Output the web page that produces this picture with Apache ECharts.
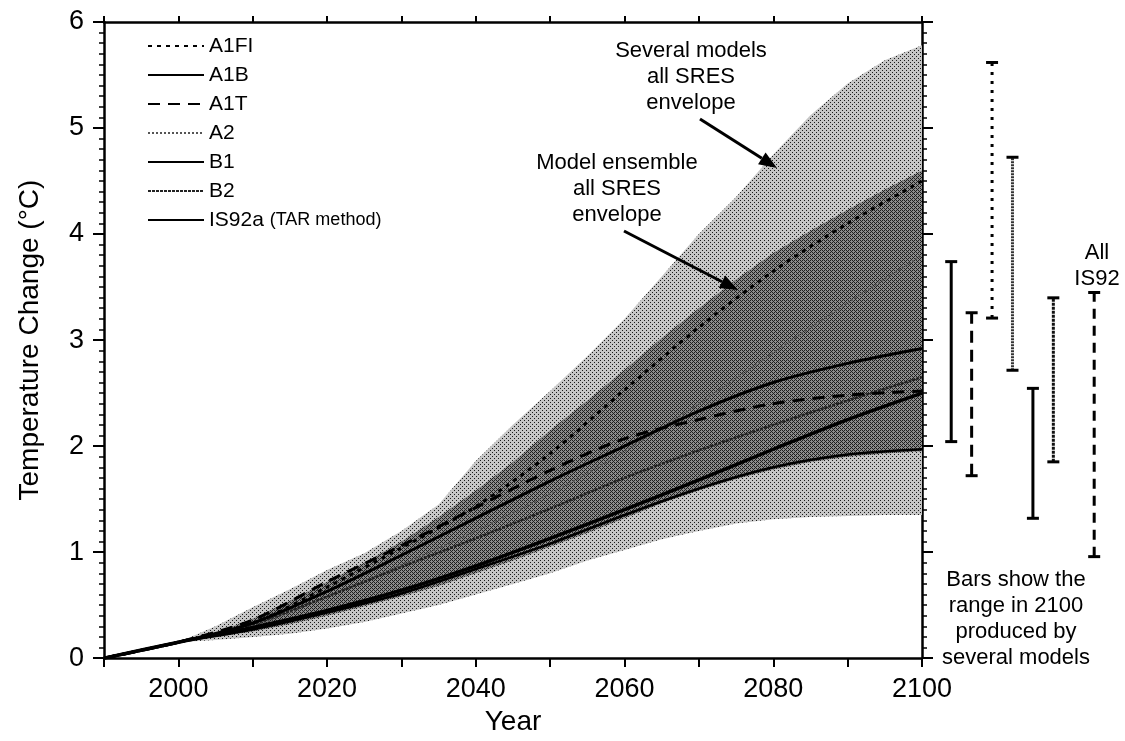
<!DOCTYPE html>
<html><head><meta charset="utf-8">
<script src="https://cdn.jsdelivr.net/npm/echarts@6/dist/echarts.min.js"></script>
<style>html,body{margin:0;padding:0;background:#fff}#c{width:1125px;height:741px}</style>
</head><body><div id="c"></div>
<script>
// ---- data ----
const years = [1990,2000,2010,2020,2030,2040,2050,2060,2070,2080,2090,2100];
const A1FI  = [0,0.15,0.33,0.67,1.04,1.43,1.93,2.53,3.12,3.65,4.10,4.50];
const A1B   = [0,0.15,0.33,0.63,0.97,1.32,1.67,2.00,2.33,2.60,2.78,2.92];
const A1T   = [0,0.15,0.36,0.72,1.06,1.42,1.77,2.07,2.25,2.40,2.48,2.52];
const A2    = [0,0.15,0.30,0.58,0.88,1.20,1.55,1.95,2.40,2.88,3.35,3.80];
const B1    = [0,0.15,0.27,0.43,0.61,0.84,1.08,1.35,1.60,1.80,1.92,1.97];
const B2    = [0,0.15,0.32,0.58,0.86,1.13,1.41,1.70,1.96,2.20,2.43,2.65];
const IS92a = [0,0.15,0.29,0.45,0.64,0.87,1.13,1.40,1.68,1.97,2.25,2.50];

const envYears = [1990,2000,2005,2010,2015,2020,2025,2030,2035,2040,2045,2050,2055,2060,2065,2070,2075,2080,2085,2090,2095,2100];
const outerHi = [0,0.15,0.30,0.48,0.65,0.83,0.99,1.20,1.45,1.86,2.20,2.52,2.85,3.20,3.60,4.00,4.35,4.75,5.12,5.42,5.64,5.78];
const outerLo = [0,0.15,0.17,0.20,0.23,0.28,0.34,0.42,0.50,0.60,0.70,0.80,0.92,1.02,1.12,1.20,1.27,1.31,1.33,1.34,1.35,1.35];
const innerHi = [0,0.15,0.24,0.37,0.54,0.72,0.90,1.10,1.33,1.58,1.85,2.15,2.43,2.72,3.02,3.30,3.57,3.82,4.03,4.23,4.42,4.60];
const innerLo = [0,0.15,0.20,0.25,0.32,0.40,0.49,0.58,0.68,0.80,0.92,1.05,1.18,1.32,1.46,1.58,1.69,1.78,1.85,1.90,1.93,1.95];

const barNames = ['A1B','A1T','A1FI','A2','B1','B2','IS92'];
const barLo = [2.06,1.74,3.22,2.73,1.34,1.87,0.98];
const barHi = [3.75,3.27,5.62,4.73,2.56,3.41,3.46];

const yTicks = [0,1,2,3,4,5,6];
const xLabelYears = [2000,2020,2040,2060,2080,2100];

// ---- layout / styles ----
const barSlots = ['A1B','A1T','A1FI','A2','B1','B2','','IS92'];
const FONT = "'Liberation Sans', Arial, Helvetica, sans-serif";
const lineStyles = {
  A1FI: {color:'#000', width:3, type:[4,5]},
  A1B:  {color:'#000', width:3, type:'solid'},
  A1T:  {color:'#000', width:3, type:[12,8]},
  A2:   {color:'#555', width:2, type:[2,2]},
  B1:   {color:'#000', width:2.5, type:'solid'},
  B2:   {color:'#222', width:2.5, type:[3,1]},
  IS92a:{color:'#000', width:3.5, type:'solid'}
};
const barStyles = {
  A1B:{w:3,dash:null,c:'#000'}, A1T:{w:3,dash:[12,7],c:'#000'}, A1FI:{w:3,dash:[3,6],c:'#000'},
  A2:{w:3,dash:[2,1],c:'#333'}, B1:{w:3,dash:null,c:'#000'}, B2:{w:3,dash:[3,1],c:'#111'},
  IS92:{w:3,dash:[10,7],c:'#000'}
};

function makePattern(kind){
  const c = document.createElement('canvas'); c.width=4; c.height=4;
  const g = c.getContext('2d');
  if(kind==='outer'){
    g.fillStyle='#c6c6c6'; g.fillRect(0,0,4,4);
    g.fillStyle='#1a1a1a'; g.fillRect(0,0,1,1); g.fillRect(2,2,1,1);
  } else {
    g.fillStyle='#8c8c8c'; g.fillRect(0,0,4,4);
    g.fillStyle='#1e1e1e';
    g.fillRect(0,0,1,1); g.fillRect(1,1,1,1); g.fillRect(2,2,1,1); g.fillRect(3,3,1,1);
    g.fillRect(2,0,1,1); g.fillRect(0,2,1,1);
  }
  return {image:c, repeat:'repeat'};
}

function envelope(name, lo, hi, fill, z){
  return {
    type:'custom', name, xAxisIndex:0, yAxisIndex:0, silent:true, clip:true, z,
    data: envYears.map((y,i)=>[y, lo[i], hi[i]]),
    encode:{x:0, y:[1,2]},
    renderItem(params, api){
      if(params.dataIndex!==0) return null;
      const pts=[];
      for(let i=0;i<envYears.length;i++) pts.push(api.coord([envYears[i],hi[i]]));
      for(let i=envYears.length-1;i>=0;i--) pts.push(api.coord([envYears[i],lo[i]]));
      return {type:'polygon', shape:{points:pts}, style:{fill:fill, stroke:null}};
    }
  };
}

const scen = {A1FI, A1B, A1T, A2, B1, B2, IS92a};
const order = ['A2','B2','B1','IS92a','A1B','A1T','A1FI'];
const lineSeries = order.map(n=>({
  name:n, type:'line', xAxisIndex:0, yAxisIndex:0, symbol:'none', smooth:0.3, z:5,
  data: years.map((y,i)=>[y, scen[n][i]]),
  lineStyle: lineStyles[n], itemStyle:{color:lineStyles[n].color}
}));

const barSeries = {
  type:'custom', name:'bars', xAxisIndex:2, yAxisIndex:2, silent:true, z:5,
  data: barNames.map((n,i)=>[n, barLo[i], barHi[i]]),
  encode:{x:0, y:[1,2]},
  renderItem(params, api){
    const lo = api.coord([api.value(0), api.value(1)]);
    const hi = api.coord([api.value(0), api.value(2)]);
    const st = barStyles[barNames[params.dataIndex]];
    return {type:'group', children:[
      {type:'line', shape:{x1:lo[0],y1:lo[1],x2:hi[0],y2:hi[1]}, style:{stroke:st.c,lineWidth:st.w,lineDash:st.dash}},
      {type:'line', shape:{x1:lo[0]-6,y1:lo[1],x2:lo[0]+6,y2:lo[1]}, style:{stroke:'#000',lineWidth:3}},
      {type:'line', shape:{x1:hi[0]-6,y1:hi[1],x2:hi[0]+6,y2:hi[1]}, style:{stroke:'#000',lineWidth:3}}
    ]};
  }
};

function arrow(x1,y1,x2,y2){
  const a=Math.atan2(y2-y1,x2-x1), L=18, W=7;
  const bx=x2-L*Math.cos(a), by=y2-L*Math.sin(a);
  return [
    {type:'line', shape:{x1,y1,x2:bx,y2:by}, style:{stroke:'#000',lineWidth:3}, z:20},
    {type:'polygon', shape:{points:[[x2,y2],[bx+W*Math.sin(a),by-W*Math.cos(a)],[bx-W*Math.sin(a),by+W*Math.cos(a)]]}, style:{fill:'#000'}, z:20}
  ];
}
function txt(x,y,text,size){
  return {type:'text', x, y, z:20, style:{text, fontSize:size||22, fontFamily:FONT, fill:'#000', align:'center', verticalAlign:'top', lineHeight:26}};
}

const axisLine = {show:true, onZero:false, lineStyle:{color:'#000', width:2.5}};
const minorTick = {show:true, splitNumber:10, length:5, lineStyle:{width:1.5, color:'#000'}};
const option = {
  backgroundColor:'#fff',
  animation:false,
  grid:[
    {left:104, right:203, top:22, bottom:80},
    {left:941, width:163.4, top:22, bottom:80}
  ],
  xAxis:[
    {gridIndex:0, type:'value', min:1990, max:2100, interval:10, position:'bottom',
     axisLine, axisTick:{show:true, length:9, lineStyle:{width:2,color:'#000'}},
     axisLabel:{fontSize:27, color:'#000', fontFamily:FONT, margin:18,
       formatter:v=> xLabelYears.includes(v)? String(v):''},
     splitLine:{show:false},
     name:'Year', nameLocation:'middle', nameGap:48,
     nameTextStyle:{fontSize:28, color:'#000', fontFamily:FONT}},
    {gridIndex:0, type:'value', min:1990, max:2100, interval:10, position:'top',
     axisLine, axisTick:{show:true, length:6, lineStyle:{width:2,color:'#000'}},
     axisLabel:{show:false}, splitLine:{show:false}},
    {gridIndex:1, type:'category', data:barSlots, show:false, boundaryGap:true}
  ],
  yAxis:[
    {gridIndex:0, type:'value', min:0, max:6, interval:1, position:'left',
     axisLine, axisTick:{show:true, length:11, lineStyle:{width:2,color:'#000'}},
     minorTick,
     axisLabel:{fontSize:27, color:'#000', fontFamily:FONT, margin:20,
       formatter:v=> yTicks.includes(v)? String(v):''},
     splitLine:{show:false},
     name:'Temperature Change (°C)', nameLocation:'middle', nameGap:60, nameRotate:90,
     nameTextStyle:{fontSize:28, color:'#000', fontFamily:FONT}},
    {gridIndex:0, type:'value', min:0, max:6, interval:1, position:'right',
     axisLine, axisTick:{show:true, length:11, lineStyle:{width:2,color:'#000'}},
     minorTick,
     axisLabel:{show:false}, splitLine:{show:false}},
    {gridIndex:1, type:'value', min:0, max:6, show:false}
  ],
  legend:{
    data:['A1FI','A1B','A1T','A2','B1','B2','IS92a'],
    orient:'vertical', left:142, top:30, itemWidth:56, itemHeight:14, itemGap:7,
    selectedMode:false,
    itemStyle:{color:'rgba(0,0,0,0)', borderColor:'rgba(0,0,0,0)', borderWidth:0, opacity:0},
    formatter:n=> n==='IS92a' ? '{a|IS92a} {b|(TAR method)}' : n,
    textStyle:{fontSize:21, color:'#000', fontFamily:FONT, lineHeight:22,
      rich:{a:{fontSize:21, fontFamily:FONT, color:'#000'}, b:{fontSize:18, fontFamily:FONT, color:'#000'}}}
  },
  graphic:[
    txt(691,38,'Several models\nall SRES\nenvelope'),
    txt(617,150,'Model ensemble\nall SRES\nenvelope'),
    ...arrow(700,119,777,168),
    ...arrow(624,231,738,290),
    txt(1097,240,'All\nIS92'),
    txt(1016,567,'Bars show the\nrange in 2100\nproduced by\nseveral models')
  ],
  series:[
    envelope('outer', outerLo, outerHi, makePattern('outer'), 1),
    envelope('inner', innerLo, innerHi, makePattern('inner'), 2),
    ...lineSeries,
    barSeries
  ]
};
const chart = echarts.init(document.getElementById('c'), null, {renderer:'canvas'});
chart.setOption(option);
</script></body></html>
